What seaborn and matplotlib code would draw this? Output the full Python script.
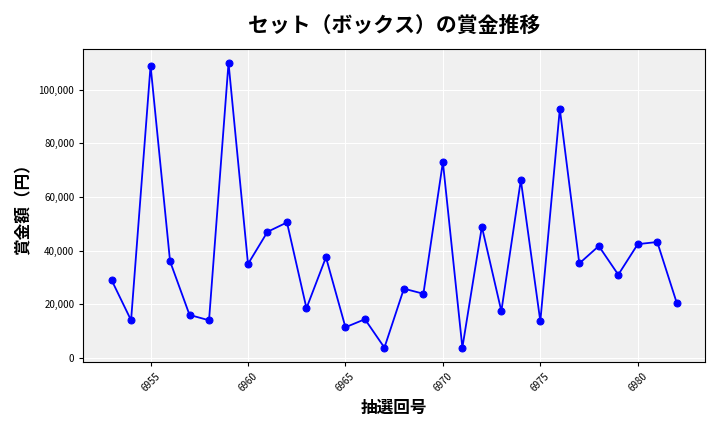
import matplotlib
matplotlib.use("Agg")
import matplotlib.pyplot as plt
import matplotlib.ticker as mticker
import seaborn as sns
import pandas as pd

draws = list(range(6953, 6983))
prizes = [29000, 14000, 109000, 36000, 16000, 14000, 110000, 35000, 47000, 50500,
          18500, 37500, 11400, 14400, 3800, 25800, 23900, 73000, 3800, 48900,
          17400, 66300, 13600, 92800, 35200, 41700, 31000, 42400, 43200, 20500]

df = pd.DataFrame({"draw": draws, "prize": prizes})

sns.set_style("darkgrid", {"axes.facecolor": "#f0f0f0", "grid.color": "white",
                           "text.color": "black", "axes.labelcolor": "black",
                           "xtick.color": "black", "ytick.color": "black",
                           "xtick.bottom": True, "ytick.left": True})
plt.rcParams["font.family"] = ["Noto Sans CJK JP", "DejaVu Sans"]

fig, ax = plt.subplots(figsize=(7.2, 4.32), dpi=100)
sns.lineplot(data=df, x="draw", y="prize", color="blue", marker="o",
             markersize=5, markeredgecolor="blue", linewidth=1.3, ax=ax)
ax.set_title("セット（ボックス）の賞金推移", fontsize=15, fontweight="bold", pad=12)
ax.set_xlabel("抽選回号", fontsize=12, fontweight="bold")
ax.set_ylabel("賞金額（円）", fontsize=12, fontweight="bold")
ax.yaxis.set_major_formatter(mticker.FuncFormatter(lambda v, p: f"{int(v):,}"))
ax.xaxis.set_major_locator(mticker.MultipleLocator(5))
ax.tick_params(axis="x", rotation=45, labelsize=7, length=3)
ax.tick_params(axis="y", labelsize=7, length=3)
for s in ax.spines.values():
    s.set_visible(True)
    s.set_color("black")
    s.set_linewidth(0.8)
fig.tight_layout()
fig.savefig("out.png")
